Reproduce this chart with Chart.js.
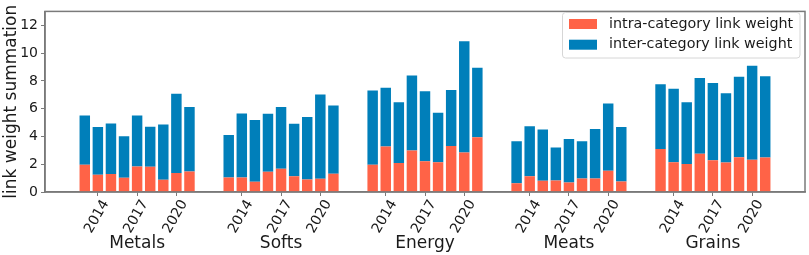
<!DOCTYPE html>
<html>
<head>
<meta charset="utf-8">
<script src="https://cdn.jsdelivr.net/npm/chart.js@4.4.1/dist/chart.umd.min.js"></script>
<style>
  html, body { margin: 0; padding: 0; background: #fff; }
</style>
</head>
<body>
<canvas id="chart" width="809" height="255"></canvas>
<script>
var groups = ["Metals", "Softs", "Energy", "Meats", "Grains"];
var years = [2013, 2014, 2015, 2016, 2017, 2018, 2019, 2020, 2021];
var tickYears = [2014, 2017, 2020];
var yTicks = [0, 2, 4, 6, 8, 10, 12];

// intra-category (bottom) and inter-category (top) parts of each bar
var intraMetals = [1.97, 1.25, 1.30, 1.02, 1.83, 1.81, 0.88, 1.37, 1.48];
var interMetals = [3.54, 3.43, 3.63, 2.99, 3.68, 2.89, 3.98, 5.70, 4.64];
var intraSofts  = [1.04, 1.04, 0.74, 1.46, 1.67, 1.14, 0.90, 0.95, 1.32];
var interSofts  = [3.06, 4.61, 4.45, 4.17, 4.45, 3.77, 4.50, 6.07, 4.91];
var intraEnergy = [1.97, 3.27, 2.08, 2.99, 2.22, 2.15, 3.31, 2.85, 3.94];
var interEnergy = [5.33, 4.24, 4.38, 5.40, 5.03, 3.55, 4.03, 8.01, 5.00];
var intraMeats  = [0.63, 1.14, 0.81, 0.83, 0.69, 0.97, 0.97, 1.53, 0.76];
var interMeats  = [3.03, 3.59, 3.68, 2.37, 3.13, 2.69, 3.57, 4.84, 3.92];
var intraGrains = [3.10, 2.15, 2.02, 2.76, 2.29, 2.13, 2.50, 2.32, 2.48];
var interGrains = [4.66, 5.29, 4.44, 5.44, 5.56, 4.98, 5.79, 6.76, 5.86];

var intraAll = [intraMetals, intraSofts, intraEnergy, intraMeats, intraGrains];
var interAll = [interMetals, interSofts, interEnergy, interMeats, interGrains];

var SLOTS = 11; // 9 years + 2 empty slots per group
var FONT = "'DejaVu Sans', sans-serif";
var AXIS = "#7a7a7a";
var INTRA_COLOR = "rgb(255,99,71)";
var INTER_COLOR = "rgb(0,127,186)";

function pos(g, year) { return g * SLOTS + (year - years[0]); }

function points(all) {
  var out = [];
  groups.forEach(function (name, g) {
    years.forEach(function (yr, i) {
      out.push({ x: pos(g, yr), y: all[g][i] });
    });
  });
  return out;
}

var tickPos = [], tickText = {};
groups.forEach(function (name, g) {
  tickYears.forEach(function (yr) {
    tickPos.push(pos(g, yr));
    tickText[pos(g, yr)] = String(yr);
  });
});

var extras = {
  id: "extras",
  afterDraw: function (chart) {
    var ctx = chart.ctx, a = chart.chartArea, xs = chart.scales.x;
    ctx.save();
    // frame
    ctx.strokeStyle = AXIS;
    ctx.lineWidth = 1.5;
    ctx.strokeRect(a.left, a.top, a.right - a.left, a.bottom - a.top);
    // group names
    ctx.fillStyle = "#1a1a1a";
    ctx.font = "17px " + FONT;
    ctx.textAlign = "center";
    ctx.textBaseline = "middle";
    groups.forEach(function (name, g) {
      ctx.fillText(name, xs.getPixelForValue(pos(g, 2017)), 243.5);
    });
    // legend
    var lx = 562.5, ly = 12.5, lw = 237.5, lh = 45.5;
    ctx.beginPath();
    ctx.roundRect(lx, ly, lw, lh, 3);
    ctx.fillStyle = "rgba(255,255,255,0.8)";
    ctx.fill();
    ctx.strokeStyle = "#d6d6d6";
    ctx.lineWidth = 1;
    ctx.stroke();
    ctx.font = "14.3px " + FONT;
    ctx.textAlign = "left";
    chart.data.datasets.forEach(function (ds, i) {
      var cy = 24 + i * 20.7;
      ctx.fillStyle = ds.backgroundColor;
      ctx.fillRect(569, cy - 5, 28, 10);
      ctx.fillStyle = "#1a1a1a";
      ctx.fillText(ds.label, 609, cy);
    });
    ctx.restore();
  }
};

new Chart("chart", {
  type: "bar",
  data: {
    datasets: [{
      label: "intra-category link weight",
      backgroundColor: INTRA_COLOR,
      data: points(intraAll)
    }, {
      label: "inter-category link weight",
      backgroundColor: INTER_COLOR,
      data: points(interAll)
    }]
  },
  options: {
    responsive: false,
    animation: false,
    devicePixelRatio: 1,
    categoryPercentage: 1,
    barPercentage: 0.8,
    layout: { padding: { left: 0, top: 5, right: 4, bottom: 0 } },
    plugins: { legend: { display: false }, tooltip: { enabled: false } },
    scales: {
      x: {
        type: "linear",
        offset: false,
        stacked: true,
        min: -3.04,
        max: 55.04,
        afterBuildTicks: function (s) {
          s.ticks = tickPos.map(function (v) { return { value: v }; });
        },
        afterFit: function (s) { s.height = 63; },
        grid: { display: true, offset: false, drawOnChartArea: false, tickLength: 4, color: AXIS, lineWidth: 1 },
        border: { display: true, color: AXIS, width: 1.5 },
        ticks: {
          autoSkip: false,
          minRotation: 60,
          maxRotation: 60,
          padding: 1,
          labelOffset: 8,
          color: "#1a1a1a",
          font: { family: FONT, size: 14 },
          callback: function (v) { return tickText[v] || ""; }
        }
      },
      y: {
        stacked: true,
        min: 0,
        max: 13,
        afterBuildTicks: function (s) {
          s.ticks = yTicks.map(function (v) { return { value: v }; });
        },
        afterFit: function (s) { s.width = 45; },
        grid: { display: true, drawOnChartArea: false, tickLength: 4, color: AXIS, lineWidth: 1 },
        border: { display: true, color: AXIS, width: 1.5 },
        title: {
          display: true,
          text: "link weight summation",
          color: "#1a1a1a",
          font: { family: FONT, size: 17 },
          padding: { top: 1, bottom: 0 }
        },
        ticks: {
          padding: 3,
          color: "#1a1a1a",
          font: { family: FONT, size: 14 }
        }
      }
    }
  },
  plugins: [extras]
});
</script>
</body>
</html>
